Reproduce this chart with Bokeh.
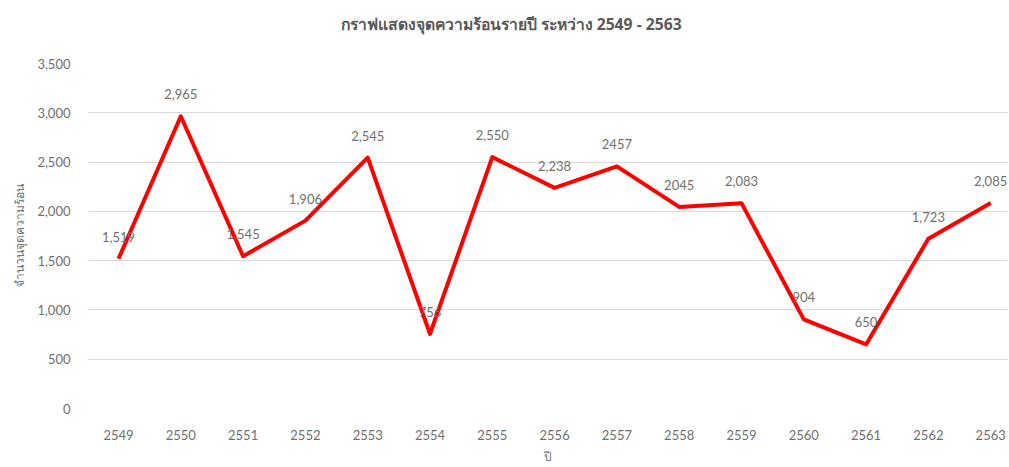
from bokeh.plotting import figure
from bokeh.models import ColumnDataSource, LabelSet, Title, FixedTicker, NumeralTickFormatter, Range1d
from bokeh.core.properties import value
from bokeh.embed import file_html
from bokeh.resources import INLINE

categories = ["2549", "2550", "2551", "2552", "2553", "2554", "2555", "2556",
              "2557", "2558", "2559", "2560", "2561", "2562", "2563"]
hotspots = [1519, 2965, 1545, 1906, 2545, 756, 2550, 2238, 2457, 2045, 2083, 904, 650, 1723, 2085]
point_labels = ["1,519", "2,965", "1,545", "1,906", "2,545", "756", "2,550", "2,238",
                "2457", "2045", "2,083", "904", "650", "1,723", "2,085"]
y_ticks = [0, 500, 1000, 1500, 2000, 2500, 3000, 3500]

TITLE = "กราฟแสดงจุดความร้อนรายปี ระหว่าง 2549 - 2563"
Y_LABEL = "จำนวนจุดความร้อน"
X_LABEL = "ปี"

xs = list(range(len(categories)))
src = ColumnDataSource(dict(x=xs, y=hotspots, lab=point_labels))

GRAY = "#707070"
TITLE_GRAY = "#595959"
FONT = "Lato"

p = figure(width=1009, height=467, output_backend="svg", toolbar_location=None,
           x_range=Range1d(-0.482, 14.27), y_range=Range1d(0, 3500),
           min_border_left=88, min_border_right=2, min_border_top=63, min_border_bottom=58)
p.outline_line_color = None
p.background_fill_color = "white"

# spacer (closest to the plot) then the real title above it
p.add_layout(Title(text=" ", text_font_size="20px", standoff=0), "above")
p.add_layout(Title(text=TITLE, align="left", offset=252, text_color=TITLE_GRAY,
                   text_font="Noto Sans", text_font_size="15.7px",
                   text_font_style="bold"), "above")

p.line("x", "y", source=src, line_color="#ff0000", line_width=4, line_join="round")

labels = LabelSet(x="x", y="y", text="lab", source=src, y_offset=22,
                  text_align="center", text_baseline="middle",
                  text_color=GRAY, text_font_size="13px", text_font=value(FONT))
p.add_layout(labels)

p.xgrid.grid_line_color = None
p.ygrid.grid_line_color = "#d9d9d9"
p.ygrid.grid_line_width = 1

p.xaxis.ticker = FixedTicker(ticks=xs)
p.xaxis.major_label_overrides = {i: c for i, c in zip(xs, categories)}
p.yaxis.ticker = FixedTicker(ticks=y_ticks)
p.yaxis.formatter = NumeralTickFormatter(format="0,0")

for ax in (p.xaxis, p.yaxis):
    ax.axis_line_color = None
    ax.major_tick_line_color = None
    ax.minor_tick_line_color = None
    ax.major_tick_out = 0
    ax.major_tick_in = 0
    ax.major_label_text_color = GRAY
    ax.major_label_text_font = FONT
    ax.major_label_text_font_size = "13px"
    ax.axis_label_text_color = GRAY
    ax.axis_label_text_font = "Noto Sans"
    ax.axis_label_text_font_size = "12px"
    ax.axis_label_text_font_style = "normal"

p.xaxis.major_label_standoff = 21
p.yaxis.major_label_standoff = 18
p.xaxis.axis_label = X_LABEL
p.yaxis.axis_label = Y_LABEL
p.xaxis.axis_label_standoff = 5
p.yaxis.axis_label_standoff = 6

open("out.html", "w").write(file_html(p, INLINE))
